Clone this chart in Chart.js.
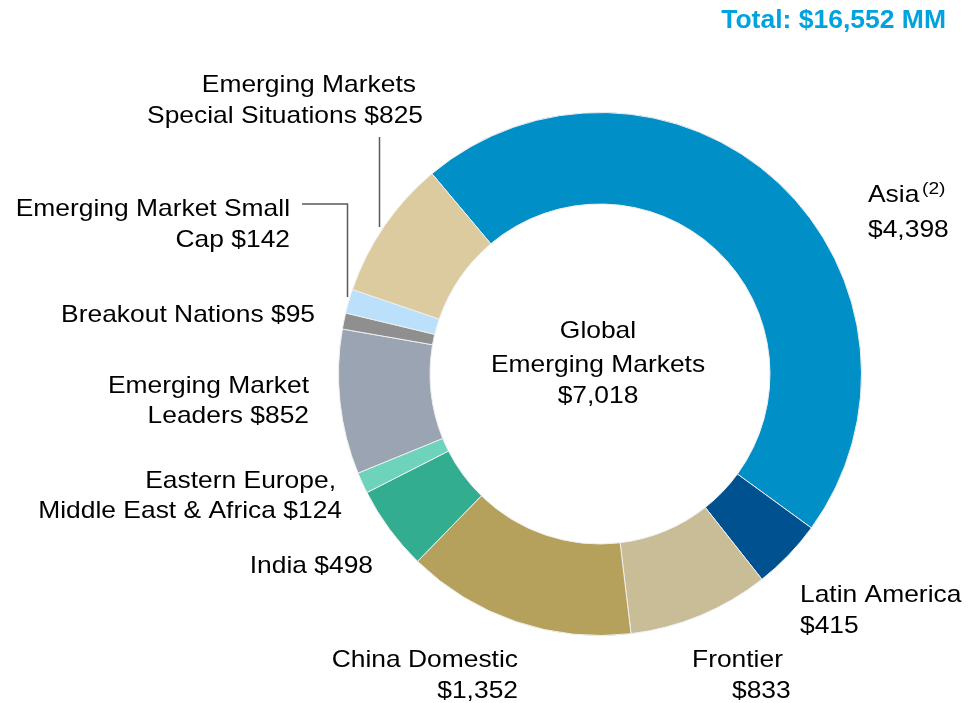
<!DOCTYPE html>
<html>
<head>
<meta charset="utf-8">
<script src="https://cdn.jsdelivr.net/npm/chart.js@4.4.0/dist/chart.umd.min.js"></script>
<style>
	html, body { margin: 0; padding: 0; background: #fff; }
	#wrap { position: relative; width: 971px; height: 703px; }
</style>
</head>
<body>
<div id="wrap"><canvas id="myChart" width="971" height="703"></canvas></div>
<script>
// data (US$ MM)
const categories = [
	"Asia",
	"Latin America",
	"Frontier",
	"China Domestic",
	"India",
	"Eastern Europe, Middle East & Africa",
	"Emerging Market Leaders",
	"Breakout Nations",
	"Emerging Market Small Cap",
	"Emerging Markets Special Situations",
];
const values = [4398, 415, 833, 1352, 498, 124, 852, 95, 142, 825];
const centerName = ["Global", "Emerging Markets"];
const centerValue = 7018;
const totalValue = 16552;

const colors = [
	"#008fc7",
	"#005190",
	"#c9bd98",
	"#b6a15c",
	"#33ad8f",
	"#6dd3bb",
	"#9ba4b3",
	"#8f8f8f",
	"#bbe0fb",
	"#dbcb9e",
];

function money(v) {
	return "$" + v.toLocaleString("en-US");
}

// how each label is broken into lines (index into categories/values)
const labelText = [
	["Asia", money(values[0])],
	["Latin America", money(values[1])],
	["Frontier", money(values[2])],
	["China Domestic", money(values[3])],
	["India " + money(values[4])],
	["Eastern Europe,", "Middle East & Africa " + money(values[5])],
	["Emerging Market", "Leaders " + money(values[6])],
	["Breakout Nations " + money(values[7])],
	["Emerging Market Small", "Cap " + money(values[8])],
	["Emerging Markets", "Special Situations " + money(values[9])],
];

// label placement: [x, baseline y, align] for each line
const labelPos = [
	[[868, 202, "left"], [868, 237, "left"]],
	[[800, 602, "left"], [800, 633, "left"]],
	[[692, 667, "left"], [732, 698, "left"]],
	[[518, 667, "right"], [518, 698, "right"]],
	[[373, 573, "right"]],
	[[336, 488, "right"], [342, 518, "right"]],
	[[309, 393, "right"], [309, 423, "right"]],
	[[315, 322, "right"]],
	[[290, 216, "right"], [290, 247, "right"]],
	[[416, 92, "right"], [423, 123, "right"]],
];

const FONT = "'Liberation Sans', Arial, sans-serif";

function drawText(c, text, x, y, align, font, sx, color) {
	c.save();
	c.translate(x, y);
	c.scale(sx, 1);
	c.font = font;
	c.fillStyle = color;
	c.textAlign = align;
	c.textBaseline = "alphabetic";
	c.fillText(text, 0, 0);
	c.restore();
}

const labelsPlugin = {
	id: "outsideLabels",
	afterDraw(chart) {
		const c = chart.ctx;
		const arc = chart.getDatasetMeta(0).data[0];
		const cx = arc.x;
		const cy = arc.y;

		// leader lines
		c.save();
		c.strokeStyle = "#5a5a5a";
		c.lineWidth = 1.5;
		c.beginPath();
		c.moveTo(379.5, 137);
		c.lineTo(379.5, 227);
		c.moveTo(302, 204);
		c.lineTo(347.5, 204);
		c.lineTo(347.5, 297);
		c.stroke();
		c.restore();

		// category labels
		for (let i = 0; i < labelText.length; i++) {
			for (let j = 0; j < labelText[i].length; j++) {
				const p = labelPos[i][j];
				drawText(c, labelText[i][j], p[0], p[1], p[2], "24px " + FONT, 1.1, "#000");
			}
		}
		drawText(c, "(2)", 922, 194, "left", "16px " + FONT, 1.2, "#000");

		// centre
		const centerLines = [centerName[0], centerName[1], money(centerValue)];
		const offs = [-36, -2, 29];
		for (let k = 0; k < centerLines.length; k++) {
			drawText(c, centerLines[k], cx - 2, cy + offs[k], "center", "24px " + FONT, 1.1, "#000");
		}

		// total
		drawText(c, "Total: " + money(totalValue) + " MM", 946, 28, "right", "bold 25px " + FONT, 1.06, "#00a3e0");
	},
};

document.addEventListener("DOMContentLoaded", function () {
	const ctx = document.getElementById("myChart").getContext("2d");
	const myChart = new Chart(ctx, {
		type: "doughnut",
		data: {
			labels: categories,
			datasets: [
				{
					data: values,
					backgroundColor: colors,
					borderColor: "#eeeeee",
					borderWidth: 1,
				},
			],
		},
		options: {
			responsive: false,
			animation: false,
			rotation: -40,
			cutout: "65%",
			layout: {
				padding: { left: 338, right: 109, top: 111, bottom: 66 },
			},
			plugins: {
				legend: { display: false },
				tooltip: { enabled: false },
			},
		},
		plugins: [labelsPlugin],
	});
});
</script>
</body>
</html>
